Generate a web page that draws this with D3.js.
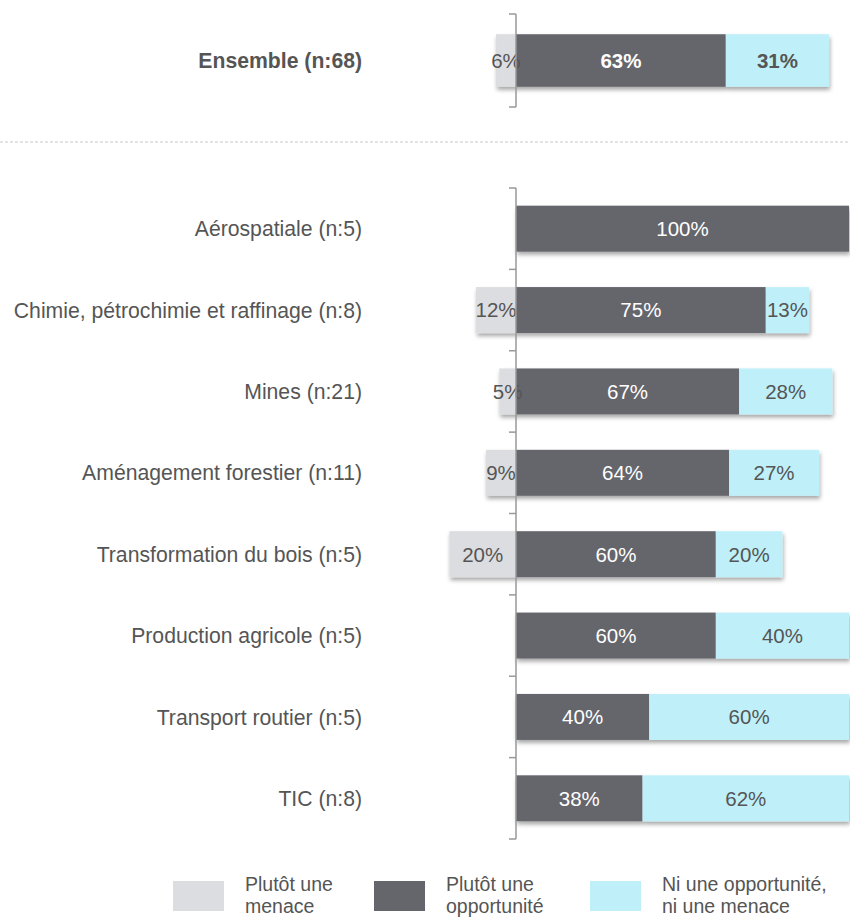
<!DOCTYPE html>
<html>
<head>
<meta charset="utf-8">
<script src="https://cdn.jsdelivr.net/npm/d3@7"></script>
<style>
  body { margin: 0; background: #fff; }
  svg { font-family: Arial, "Liberation Sans", sans-serif; }
</style>
</head>
<body>
<div id="chart"></div>
<script>
// data
const totalLabel = ["Ensemble (n:68)"];
const totalMenace = [6];
const totalOpportunite = [63];
const totalNeutre = [31];

const categories = [
  "Aérospatiale (n:5)",
  "Chimie, pétrochimie et raffinage (n:8)",
  "Mines (n:21)",
  "Aménagement forestier (n:11)",
  "Transformation du bois (n:5)",
  "Production agricole (n:5)",
  "Transport routier (n:5)",
  "TIC (n:8)"
];
const menace = [0, 12, 5, 9, 20, 0, 0, 0];
const opportunite = [100, 75, 67, 64, 60, 60, 40, 38];
const neutre = [0, 13, 28, 27, 20, 40, 60, 62];

const legendLabels = [
  ["Plutôt une", "menace"],
  ["Plutôt une", "opportunité"],
  ["Ni une opportunité,", "ni une menace"]
];
const colors = ["#dcdde0", "#65656c", "#bff0f9"];
const textColors = ["#555", "#fff", "#555"];

const w = 850, h = 919;

const svg = d3.select("#chart")
  .append("svg")
  .attr("width", w)
  .attr("height", h);

// drop shadow under the bars
const f = svg.append("defs").append("filter")
  .attr("id", "shadow")
  .attr("x", "-5%").attr("y", "-20%")
  .attr("width", "110%").attr("height", "150%");
f.append("feDropShadow")
  .attr("dx", 1).attr("dy", 3)
  .attr("stdDeviation", 2)
  .attr("flood-color", "#000")
  .attr("flood-opacity", 0.35);

const x = d3.scaleLinear().domain([0, 100]).range([516, 849]);
const pad = 0.435;

const yTop = d3.scaleBand().domain(totalLabel).range([14, 107])
  .paddingInner(pad).paddingOuter(pad / 2);
const y = d3.scaleBand().domain(categories).range([188, 839])
  .paddingInner(pad).paddingOuter(pad / 2);

let drawGroup = (labels, m, o, n, yScale, bold) => {
  const rows = labels.map((l, i) => ({ label: l, vals: [m[i], o[i], n[i]] }));

  const g = svg.append("g");

  rows.forEach(r => {
    const yy = yScale(r.label);
    const bh = yScale.bandwidth();
    const cy = yy + bh / 2;
    // segments: menace goes left of zero, the rest stack to the right
    const segs = [
      { k: 0, x0: x(0) - (x(r.vals[0]) - x(0)), x1: x(0), v: r.vals[0] },
      { k: 1, x0: x(0), x1: x(r.vals[1]), v: r.vals[1] },
      { k: 2, x0: x(r.vals[1]), x1: x(r.vals[1] + r.vals[2]), v: r.vals[2] }
    ].filter(s => s.v > 0);

    g.append("g")
      .attr("filter", "url(#shadow)")
      .selectAll("rect")
      .data(segs)
      .enter()
      .append("rect")
      .attr("x", d => d.x0)
      .attr("y", yy)
      .attr("width", d => d.x1 - d.x0)
      .attr("height", bh)
      .attr("fill", d => colors[d.k]);

    g.selectAll(null)
      .data(segs)
      .enter()
      .append("text")
      .attr("x", d => (d.x0 + d.x1) / 2)
      .attr("y", cy)
      .attr("dy", "0.36em")
      .attr("text-anchor", "middle")
      .style("font-size", "20.5px")
      .style("font-weight", d => (bold && d.k > 0) ? "bold" : "normal")
      .attr("fill", d => textColors[d.k])
      .text(d => d.v + "%");

    g.append("text")
      .attr("x", 362)
      .attr("y", cy)
      .attr("dy", "0.36em")
      .attr("text-anchor", "end")
      .style("font-size", "21.2px")
      .style("font-weight", bold ? "bold" : "normal")
      .attr("fill", "#555")
      .text(r.label);
  });

  // axis line with ticks at band edges
  const r0 = yScale.range();
  const edges = d3.range(labels.length + 1).map(i => r0[0] + i * yScale.step());
  g.append("line")
    .attr("x1", x(0)).attr("x2", x(0))
    .attr("y1", r0[0]).attr("y2", r0[1])
    .attr("stroke", "#999").attr("stroke-width", 1.5);
  g.selectAll(null)
    .data(edges)
    .enter()
    .append("line")
    .attr("x1", x(0) - 7).attr("x2", x(0))
    .attr("y1", d => d).attr("y2", d => d)
    .attr("stroke", "#999").attr("stroke-width", 1.5);
};

drawGroup(totalLabel, totalMenace, totalOpportunite, totalNeutre, yTop, true);
drawGroup(categories, menace, opportunite, neutre, y, false);

// dashed separator
svg.append("line")
  .attr("x1", 0).attr("x2", w)
  .attr("y1", 142).attr("y2", 142)
  .attr("stroke", "#c8c8c8")
  .attr("stroke-dasharray", "3,2");

// legend
const legendX = [173, 374, 590];
const lg = svg.append("g");
legendLabels.forEach((l, i) => {
  lg.append("rect")
    .attr("x", legendX[i]).attr("y", 881)
    .attr("width", 51).attr("height", 30)
    .attr("fill", colors[i]);
  l.forEach((t, j) => {
    lg.append("text")
      .attr("x", legendX[i] + 72)
      .attr("y", 890.5 + j * 22.5)
      .style("font-size", "19.5px")
      .attr("fill", "#555")
      .text(t);
  });
});
</script>
</body>
</html>
